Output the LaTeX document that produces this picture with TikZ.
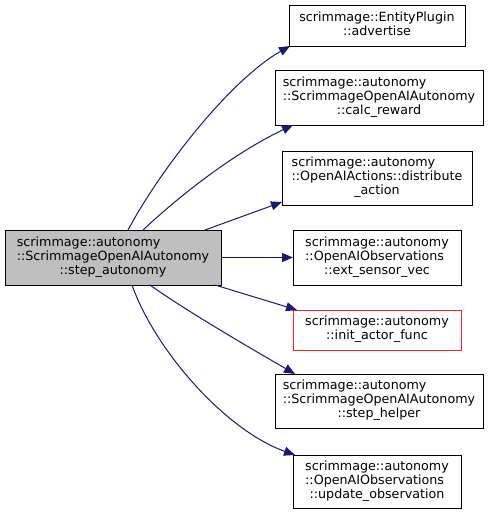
\documentclass[tikz,border=0pt]{standalone}
\usepackage{fontspec}
\setmainfont{DejaVu Sans}
\usetikzlibrary{arrows.meta,calc}
\definecolor{edgeblue}{HTML}{191970}
\definecolor{mainfill}{HTML}{BFBFBF}
\definecolor{redline}{HTML}{FF2020}
\newcommand{\threel}[3]{\begin{tabular}{@{}l@{}}#1\\#2\\\multicolumn{1}{@{}c@{}}{#3}\end{tabular}}
\newcommand{\twol}[2]{\begin{tabular}{@{}l@{}}#1\\\multicolumn{1}{@{}c@{}}{#2}\end{tabular}}
\begin{document}
\begin{tikzpicture}[x=1pt,y=-1pt,
  fn/.style={draw=black,line width=1pt,fill=white,inner sep=0pt,outer sep=0pt,
    font=\fontsize{12.7}{14}\selectfont},
  call/.style={draw=edgeblue,line width=1pt,-{Triangle[length=11pt,width=9pt]}}]
\useasboundingbox (0,0) rectangle (491,515);
\node[fn,fill=mainfill,minimum width=216pt,minimum height=55pt] (main) at (113,257.5)
  {\threel{scrimmage::autonomy}{::ScrimmageOpenAIAutonomy}{::step\_autonomy}};
\node[fn,minimum width=176pt,minimum height=41pt] (adv) at (377,25.5)
  {\twol{scrimmage::EntityPlugin}{::advertise}};
\node[fn,minimum width=208pt,minimum height=55pt] (calc) at (379,97.5)
  {\threel{scrimmage::autonomy}{::ScrimmageOpenAIAutonomy}{::calc\_reward}};
\node[fn,minimum width=190pt,minimum height=54pt] (dist) at (377,178)
  {\threel{scrimmage::autonomy}{::OpenAIActions::distribute}{\_action}};
\node[fn,minimum width=168pt,minimum height=55pt] (ext) at (377,257.5)
  {\threel{scrimmage::autonomy}{::OpenAIObservations}{::ext\_sensor\_vec}};
\node[fn,draw=redline,minimum width=168pt,minimum height=40pt] (init) at (377,330)
  {\twol{scrimmage::autonomy}{::init\_actor\_func}};
\node[fn,minimum width=208pt,minimum height=54pt] (step) at (379,401)
  {\threel{scrimmage::autonomy}{::ScrimmageOpenAIAutonomy}{::step\_helper}};
\node[fn,minimum width=168pt,minimum height=53pt] (upd) at (377,481.5)
  {\threel{scrimmage::autonomy}{::OpenAIObservations}{::update\_observation}};
% edges
\draw[call] ($(main.north west)+(123,0)$) .. controls (160,170) and (230,80) .. ($(adv.south west)+(1,0)$);
\draw[call] ($(main.north west)+(138,0)$) .. controls (175,200) and (230,155) .. ($(calc.south west)+(18,0)$);
\draw[call] ($(main.north west)+(200,0)$) -- ($(dist.south west)+(0,-3)$);
\draw[call] (main.east) -- (ext.west);
\draw[call] ($(main.south west)+(210,0)$) -- ($(init.north west)+(4,0)$);
\draw[call] ($(main.south west)+(145,0)$) .. controls (185,310) and (245,345) .. ($(step.north west)+(20,0)$);
\draw[call] ($(main.south west)+(127,0)$) .. controls (155,350) and (225,430) .. ($(upd.north west)+(2,0)$);
\end{tikzpicture}
\end{document}
